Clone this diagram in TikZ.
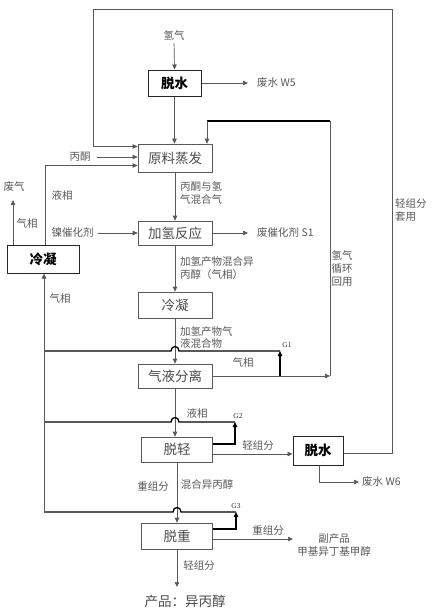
\documentclass[tikz,border=0pt]{standalone}
\usepackage{fontspec}
\setmainfont{Liberation Serif}
\newfontfamily\cjk{Noto Sans CJK SC}
\usetikzlibrary{arrows.meta}
\begin{document}
\begin{tikzpicture}[x=1pt,y=-1pt,
  box/.style={draw=black!65, line width=0.7pt, text=black!70, font=\cjk\fontsize{13.5}{15}\selectfont, inner sep=0pt, minimum width=74pt, minimum height=26pt},
  bbox/.style={draw=black!85, line width=1pt, text=black, font=\cjk\bfseries\fontsize{13.5}{15}\selectfont, inner sep=0pt},
  lbl/.style={text=black!65, font=\cjk\fontsize{10.5}{13}\selectfont, inner sep=0pt},
  glbl/.style={text=black!80, font=\fontsize{7.5}{9}\selectfont, inner sep=0pt},
  ln/.style={draw=black!65, line width=0.7pt},
  arr/.style={ln, -{Triangle[length=5pt,width=4.5pt]}},
  hv/.style={draw=black, line width=1.3pt},
  hvarr/.style={hv, -{Triangle[length=5pt,width=4.5pt]}},
]
\useasboundingbox (0,0) rectangle (436,610);
\fill[white] (0,0) rectangle (436,610);

% boxes
\node[bbox, minimum width=53pt, minimum height=26pt] (dw1) at (174.5,83) {脱水};
\node[box, minimum height=28pt] (ylzf) at (175,158) {原料蒸发};
\node[box, minimum height=24pt] (jqfy) at (175,233) {加氢反应};
\node[box, minimum height=26pt] (ln2) at (175,305) {冷凝};
\node[box, minimum height=24pt] (qyfl) at (175,376) {气液分离};
\node[box, minimum width=71pt, minimum height=25pt] (dq) at (177,449.5) {脱轻};
\node[box, minimum width=71pt, minimum height=26pt] (dz) at (177,536) {脱重};
\node[bbox, minimum width=72pt, minimum height=28pt] (ln1) at (43,259) {冷凝};
\node[bbox, minimum width=50pt, minimum height=29pt] (dw2) at (318,450.5) {脱水};

% labels
\node[lbl] (h2) at (174,35) {氢气};
\node[lbl, anchor=west] (w5) at (257,83) {废水 W5};
\node[lbl] (bt) at (80,157) {丙酮};
\node[lbl] (yx1) at (62,195) {液相};
\node[lbl] (fq) at (14,187) {废气};
\node[lbl] (qx1) at (27,223) {气相};
\node[lbl] (nc) at (72.5,233) {镍催化剂};
\node[lbl, anchor=west, align=left] (bh) at (180,193) {丙酮与氢\\气混合气};
\node[lbl, anchor=west] (s1) at (257,233) {废催化剂 S1};
\node[lbl, align=center] (qxh) at (342,269) {氢气\\循环\\回用};
\node[lbl, anchor=west, align=left] (qzf) at (395,210) {轻组分\\套用};
\node[lbl, anchor=west, align=left] (jqcw) at (180,268) {加氢产物混合异\\丙醇（气相）};
\node[lbl] (qx2) at (60,298) {气相};
\node[lbl, anchor=west, align=left, font=\cjk\fontsize{10.5}{12}\selectfont] (jqqy) at (180,338) {加氢产物气\\液混合物};
\node[glbl] (g1l) at (287,345) {G1};
\node[lbl] (qx3) at (243,362) {气相};
\node[lbl] (yx2) at (197,413) {液相};
\node[glbl] (g2l) at (238,416) {G2};
\node[lbl] (qz1) at (258,446) {轻组分};
\node[lbl, anchor=west] (w6) at (362,482) {废水 W6};
\node[lbl] (zz1) at (153,487) {重组分};
\node[lbl] (hh) at (207,484) {混合异丙醇};
\node[glbl] (g3l) at (236,506) {G3};
\node[lbl] (zz2) at (268,531) {重组分};
\node[lbl, align=center] (fcp) at (334,545) {副产品\\甲基异丁基甲醇};
\node[lbl] (qz2) at (199,566) {轻组分};
\node[text=black!70, font=\cjk\fontsize{13.5}{15}\selectfont, inner sep=0pt] (cp) at (185,601) {产品：异丙醇};

% coordinates
\coordinate (tl) at (93,9);
\coordinate (tr) at (392,9);
\coordinate (rb) at (392,453);
\coordinate (tlb) at (93,146.5);
\coordinate (lp1) at (330,376);
\coordinate (lp2) at (330,121);
\coordinate (lp3) at (207,121);
\coordinate (yxc) at (45,165.5);
\coordinate (fqa) at (13,200);
\coordinate (g1) at (280,351);
\coordinate (g1b) at (280,376);
\coordinate (lx1) at (44,351);
\coordinate (g2) at (235,422);
\coordinate (g2b) at (235,444);
\coordinate (lx2) at (44,422);
\coordinate (q1) at (250,454);
\coordinate (w6c) at (319,482);
\coordinate (g3) at (236,512);
\coordinate (g3b) at (236,529);
\coordinate (lx3) at (44,512);
\coordinate (zz) at (293,539);
\coordinate (cpa) at (177,587);

% top section
\draw[arr, shorten <=3pt] (h2.south) -- (dw1.north);
\draw[arr, shorten >=9pt] (dw1.east) -- (w5.west);
\draw[arr] (dw1.south) -- (dw1.south |- ylzf.north);

% outer recycle loop (light fraction)
\draw[ln, line width=0.9pt] (dw2.east |- rb) -- (rb) -- (tr) -- (tl) -- (tlb);
\draw[arr] (tlb) -- (tlb -| ylzf.west);

% hydrogen recycle loop
\draw[arr] (qyfl.east) -- (lp1);
\draw[ln] (lp1) -- (lp2);
\draw[hv] (lp2) -- (lp3);
\draw[arr] (lp3) -- (lp3 |- ylzf.north);

% left inputs
\draw[arr, shorten <=6pt] (bt.east) -- (bt.east -| ylzf.west);
\draw[arr] (ln1.north -| yxc) -- (yxc) -- (yxc -| ylzf.west);
\draw[arr] (ln1.north -| fqa) -- (fqa);
\draw[arr, shorten <=4pt] (nc.east) -- (nc.east -| jqfy.west);

% main column
\draw[arr] (ylzf.south) -- (jqfy.north);
\draw[arr, shorten >=9pt] (jqfy.east) -- (s1.west);
\draw[arr] (jqfy.south) -- (ln2.north);
\draw[arr] (ln2.south) -- (qyfl.north);
\draw[arr] (qyfl.south) -- (qyfl.south |- dq.north);
\draw[arr] (dq.south) -- (dz.north);
\draw[arr] (dz.south) -- (cpa);

% G lines
\draw[hvarr] (g1b) -- (g1);
\draw[hv] (g1) -- (179,351) .. controls (179,345) and (171,345) .. (171,351) -- (lx1);
\draw[hvarr] (dq.east |- g2b) -- (g2b) -- (g2);
\draw[hv] (g2) -- (179,422) .. controls (179,416) and (171,416) .. (171,422) -- (lx2);
\draw[hvarr] (dz.east |- g3b) -- (g3b) -- (g3);
\draw[hv] (g3) -- (181,512) .. controls (181,506) and (173,506) .. (173,512) -- (lx3);
\draw[arr, line width=0.9pt] (lx3) -- (ln1.south -| lx3);

% right side
\draw[arr] (dq.east |- q1) -- (dw2.west |- q1);
\draw[arr, shorten >=3pt] (dw2.south -| w6c) -- (w6c) -- (w6.west);
\draw[arr] (dz.east |- zz) -- (zz);
\end{tikzpicture}
\end{document}
